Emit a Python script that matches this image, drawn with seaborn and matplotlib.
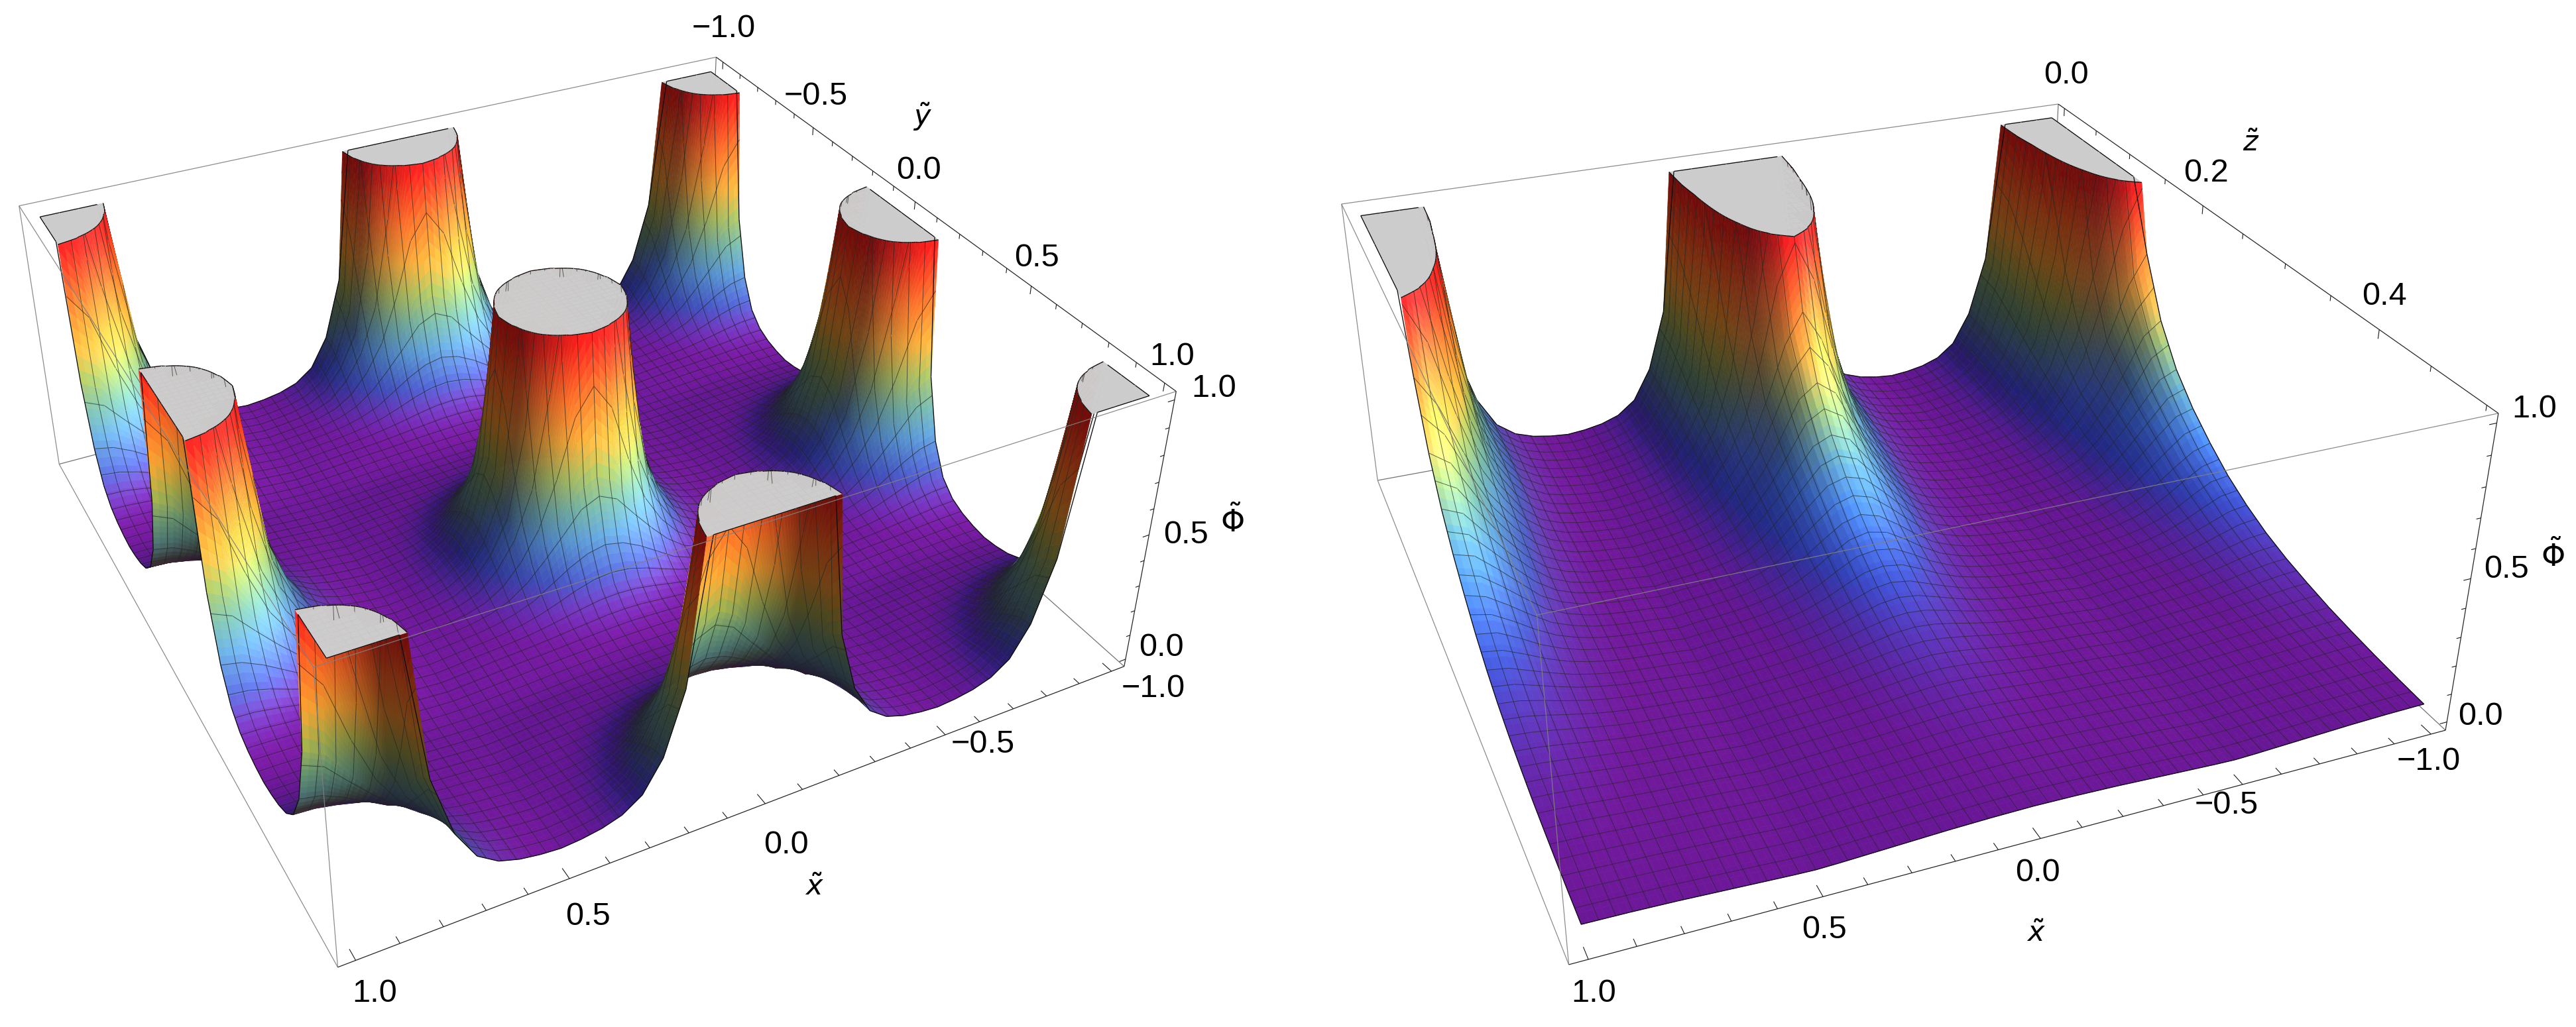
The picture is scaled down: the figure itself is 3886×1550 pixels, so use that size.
import numpy as np
import matplotlib
matplotlib.use("Agg")
import matplotlib.pyplot as plt
import seaborn as sns
from mpl_toolkits.mplot3d.art3d import Poly3DCollection, Line3DCollection

W, H = 3887, 1550

# Values of Phi, at steps of 0.05 from a peak to the midpoint of the lattice
# (the surface repeats by reflection, so one quadrant of readings gives the whole 3x3 lattice of peaks).
PHI_XY = [
    [9.00, 5.50, 2.60, 1.25, .480, .250, .135, .085, .062, .050, .044],
    [5.50, 4.00, 2.20, 1.07, .440, .235, .130, .083, .060, .050, .043],
    [2.60, 2.20, 1.40, .690, .340, .200, .115, .075, .058, .048, .042],
    [1.25, 1.07, .690, .400, .250, .155, .095, .068, .054, .046, .040],
    [.480, .440, .340, .250, .170, .110, .078, .060, .050, .044, .037],
    [.250, .235, .200, .155, .110, .083, .064, .053, .046, .041, .034],
    [.135, .130, .115, .095, .078, .064, .055, .048, .044, .036, .030],
    [.085, .083, .075, .068, .060, .053, .048, .044, .038, .032, .027],
    [.062, .060, .058, .054, .050, .046, .044, .038, .033, .028, .024],
    [.050, .050, .048, .046, .044, .041, .036, .032, .028, .024, .022],
    [.044, .043, .042, .040, .037, .034, .030, .027, .024, .022, .020],
]
# Right panel: rows z = 0, 0.025 ... 0.5; columns |x - peak| = 0, 0.05 ... 0.5
PHI_XZ = [
    [9.00, 5.50, 2.60, 1.20, .470, .250, .135, .085, .062, .050, .044],
    [7.00, 4.90, 2.45, 1.13, .460, .245, .133, .084, .062, .050, .044],
    [4.80, 3.70, 2.00, .970, .410, .230, .127, .082, .061, .050, .043],
    [3.00, 2.50, 1.55, .760, .350, .210, .118, .078, .059, .049, .042],
    [1.90, 1.70, 1.08, .550, .300, .185, .107, .073, .057, .048, .042],
    [1.20, 1.03, .680, .410, .255, .155, .095, .068, .054, .046, .040],
    [.760, .650, .470, .310, .215, .135, .088, .064, .052, .045, .039],
    [.560, .510, .385, .270, .180, .115, .080, .061, .050, .044, .037],
    [.430, .400, .315, .230, .158, .103, .074, .058, .050, .044, .036],
    [.340, .320, .260, .195, .130, .092, .069, .056, .048, .043, .035],
    [.270, .250, .205, .155, .110, .083, .064, .053, .046, .041, .034],
    [.210, .200, .165, .125, .095, .074, .060, .051, .045, .040, .033],
    [.165, .155, .130, .105, .083, .068, .056, .049, .044, .039, .032],
    [.130, .124, .108, .090, .074, .062, .053, .046, .042, .036, .030],
    [.105, .100, .090, .078, .066, .056, .049, .044, .040, .034, .029],
    [.087, .083, .076, .067, .059, .051, .046, .042, .038, .032, .027],
    [.072, .070, .065, .059, .053, .048, .044, .040, .036, .031, .027],
    [.062, .060, .057, .052, .048, .044, .041, .038, .034, .030, .026],
    [.054, .053, .050, .047, .044, .041, .038, .035, .031, .027, .024],
    [.048, .047, .045, .043, .041, .038, .035, .032, .029, .025, .023],
    [.044, .043, .042, .040, .038, .035, .032, .029, .026, .023, .021],
]
RAINBOW = ["#781C81", "#3F56A7", "#4B91C0", "#5FAA9F", "#91BD61", "#D8AF3D", "#E77C30", "#D92120"]
# height at which each of those colours is reached in the picture
RAINBOW_AT = [.05, .16, .28, .38, .50, .63, .78, .98]

X_TICK_LABELS = ["1.0", "0.5", "0.0", "\u22120.5", "\u22121.0"]
Y_TICK_LABELS = ["\u22121.0", "\u22120.5", "0.0", "0.5", "1.0"]
Z_TICK_LABELS = ["0.0", "0.2", "0.4"]
PHI_TICK_LABELS = ["0.0", "0.5", "1.0"]

sns.set_theme(style="white")
plt.rcParams["font.family"] = ["Liberation Sans", "DejaVu Sans"]
plt.rcParams["mathtext.fontset"] = "dejavusans"
CMAP = sns.blend_palette(RAINBOW, n_colors=256, as_cmap=True)

fig = plt.figure(figsize=(W / 100, H / 100), dpi=100, facecolor="white")


def calibrate(world, pixel):
    rows = []
    for (x, y, z), (u, v) in zip(world, pixel):
        rows.append([x, y, z, 1, 0, 0, 0, 0, -u * x, -u * y, -u * z, -u])
        rows.append([0, 0, 0, 0, x, y, z, 1, -v * x, -v * y, -v * z, -v])
    P = np.linalg.svd(np.array(rows, float))[2][-1].reshape(3, 4)
    c = np.mean(world, axis=0)
    if P[2] @ np.r_[c, 1] < 0:
        P = -P
    return P / (P[2] @ np.r_[c, 1])


def make_axes(left, P):
    ax = fig.add_axes([left / W, -200 / H, 1950 / W, 1950 / H], projection="3d", computed_zorder=False)
    ax.set_axis_off()
    ax.patch.set_visible(False)
    Pd = np.diag([1.0, -1.0, 1.0]) @ P
    Pd = Pd + np.outer([0, H, 0], P[2])

    def get_proj():
        inv = np.linalg.inv(ax.transData.get_matrix())
        A = inv @ Pd
        return np.array([A[0], A[1], [0, 0, 0, -1.0], A[2]])

    ax.get_proj = get_proj
    return ax


L_COL = np.array([[0.9, 0, 0], [0, 0.9, 0], [0, 0, 1.1]])
L_DIR = np.array([[.75, .1, .65], [.7, .2, .68], [.45, .45, .77]])
AMBIENT = np.array([.52, .38, .32])
SPEC_DIR = np.array([.8, .1, .6])


def clip_poly(poly, keep_below):
    out = []
    n = len(poly)
    for k in range(n):
        a, b = poly[k], poly[(k + 1) % n]
        ina = a[2] <= 1 if keep_below else a[2] >= 1
        inb = b[2] <= 1 if keep_below else b[2] >= 1
        if ina:
            out.append(a)
        if ina != inb:
            t = (1 - a[2]) / (b[2] - a[2])
            out.append((a[0] + t * (b[0] - a[0]), a[1] + t * (b[1] - a[1]), 1.0))
    return out


def clip_seg(a, b):
    if a[2] <= 1 and b[2] <= 1:
        return [(a, b)]
    if a[2] > 1 and b[2] > 1:
        return []
    t = (1 - a[2]) / (b[2] - a[2])
    m = (a[0] + t * (b[0] - a[0]), a[1] + t * (b[1] - a[1]), 1.0)
    return [(a, m)] if a[2] <= 1 else [(m, b)]


def surface(ax, P, xs, ys, Phi, mesh_x, mesh_y):
    sx, sy, sz = 1 / (xs[-1] - xs[0]), 1 / (ys[-1] - ys[0]), 0.4
    A = P[:, :3]
    C = -np.linalg.solve(A, P[:, 3])
    Cb = C * [sx, sy, sz]
    cen = np.array([(xs[0] + xs[-1]) / 2 * sx, (ys[0] + ys[-1]) / 2 * sy, 0.2])
    v = (Cb - cen) / np.linalg.norm(Cb - cen)
    r = np.cross([0, 0, 1], v); r /= np.linalg.norm(r)
    u = np.cross(v, r)
    frame = np.array([r, u, v])
    L_world = L_DIR @ frame
    S_world = SPEC_DIR @ frame

    pad = np.pad(np.minimum(Phi, 3.0), 1, mode="reflect")
    gx = np.gradient(pad, xs[1] - xs[0], axis=0)[1:-1, 1:-1] / sx
    gy = np.gradient(pad, ys[1] - ys[0], axis=1)[1:-1, 1:-1] / sy
    N = np.stack([-gx * sz, -gy * sz, np.ones_like(gx)], axis=-1)
    N /= np.linalg.norm(N, axis=-1, keepdims=True)

    nx, ny = len(xs) - 1, len(ys) - 1
    cells = [(i, j) for i in range(nx) for j in range(ny)]
    xc = (xs[:-1] + xs[1:]) / 2
    yc = (ys[:-1] + ys[1:]) / 2
    cells.sort(key=lambda c: (-abs(yc[c[1]] - C[1]), -abs(xc[c[0]] - C[0])))
    stops = np.linspace(0, 1, len(RAINBOW))

    z0 = 10
    for (i, j) in cells:
        f00, f10, f01, f11 = Phi[i, j], Phi[i + 1, j], Phi[i, j + 1], Phi[i + 1, j + 1]
        c00, c10, c01, c11 = [min(f, 1.0) for f in (f00, f10, f01, f11)]
        nu = int(np.clip(np.ceil(max(abs(c10 - c00), abs(c11 - c01)) / .03), 3, 14))
        nv = int(np.clip(np.ceil(max(abs(c01 - c00), abs(c11 - c10)) / .03), 3, 14))
        ug = np.linspace(0, 1, nu + 1)
        vg = np.linspace(0, 1, nv + 1)
        x0, x1, y0, y1 = xs[i], xs[i + 1], ys[j], ys[j + 1]

        def pt(a, b):
            return (x0 + a * (x1 - x0), y0 + b * (y1 - y0),
                    f00 * (1 - a) * (1 - b) + f10 * a * (1 - b) + f01 * (1 - a) * b + f11 * a * b)

        polys, meta, cap = [], [], []
        outline = []
        for a0, a1 in zip(ug[:-1], ug[1:]):
            for b0, b1 in zip(vg[:-1], vg[1:]):
                q = [pt(a0, b0), pt(a1, b0), pt(a1, b1), pt(a0, b1)]
                zz = [p[2] for p in q]
                am, bm = (a0 + a1) / 2, (b0 + b1) / 2
                if min(zz) < 1:
                    poly = q if max(zz) <= 1 else clip_poly(q, True)
                    if len(poly) >= 3:
                        polys.append(poly)
                        zmean = np.mean([p[2] for p in poly])
                        meta.append((am, bm, zmean))
                        if max(zz) > 1:
                            ed = [p for p in poly if p[2] == 1.0]
                            if len(ed) >= 2:
                                outline.append((ed[0], ed[-1]))
                if max(zz) > 1:
                    poly = q if min(zz) >= 1 else clip_poly(q, False)
                    if len(poly) >= 3:
                        cap.append([(p[0], p[1], 1.0) for p in poly])

        vsout = []
        cols = []
        if polys:
            mt = np.array(meta)
            a, b = mt[:, 0, None], mt[:, 1, None]
            n = N[i, j] * (1 - a) * (1 - b) + N[i + 1, j] * a * (1 - b) + N[i, j + 1] * (1 - a) * b + N[i + 1, j + 1] * a * b
            n /= np.linalg.norm(n, axis=1, keepdims=True)
            pos = np.array([x0 * sx, y0 * sy, 0]) + np.hstack([a * (x1 - x0) * sx, b * (y1 - y0) * sy, mt[:, 2, None] * sz])
            vw = Cb - pos
            flip = np.sign(np.sum(n * vw, axis=1, keepdims=True))
            flip[flip == 0] = 1
            n = n * flip
            t = np.interp(mt[:, 2], RAINBOW_AT, stops)
            base = np.array(CMAP(t))[:, :3]
            diff = np.clip(n @ L_world.T, 0, None)
            lit = AMBIENT + diff @ L_COL
            spec = np.clip(n @ S_world, 0, None)[:, None] ** 8 * 0.14
            cols = np.clip(base * lit + spec, 0, 1)
            cols = [tuple(c) + (1,) for c in cols]
            vsout = polys
        allv = vsout + cap
        allc = list(cols) + [(.8, .8, .8, 1)] * len(cap)
        col = Poly3DCollection(allv, facecolors=allc, edgecolors=allc, linewidths=0.45, zorder=z0)
        ax.add_collection3d(col, autolim=False)

        segs = []
        for xm in mesh_x:
            if x0 <= xm < x1:
                a = (xm - x0) / (x1 - x0)
                segs += clip_seg(pt(a, 0), pt(a, 1))
        for ym in mesh_y:
            if y0 <= ym < y1:
                b = (ym - y0) / (y1 - y0)
                segs += clip_seg(pt(0, b), pt(1, b))
        rim = list(outline)
        if i == 0:
            rim += [(pt(0, 0), pt(0, 1))]
        if i == nx - 1:
            rim += [(pt(1, 0), pt(1, 1))]
        if j == 0:
            rim += [(pt(0, 0), pt(1, 0))]
        if j == ny - 1:
            rim += [(pt(0, 1), pt(1, 1))]
        rim = [tuple((p[0], p[1], min(p[2], 1.0)) for p in s) for s in rim]
        if segs:
            ax.add_collection3d(Line3DCollection(segs, colors=[(.13, .15, .13, .68)], linewidths=0.7, zorder=z0 + 1), autolim=False)
        if rim:
            ax.add_collection3d(Line3DCollection(rim, colors=[(.05, .05, .05, 1)], linewidths=0.95, zorder=z0 + 1.5), autolim=False)
        z0 += 2


def box(ax, x_far, x_near, y0, y1, lo, hi):
    back = [[(x_far, y0, lo), (x_far, y0, hi)], [(x_near, y0, lo), (x_far, y0, lo)], [(x_far, y0, lo), (x_far, y1, lo)]]
    front = [[(x_near, y1, hi), (x_near, y0, hi)], [(x_near, y1, hi), (x_far, y1, hi)], [(x_near, y1, hi), (x_near, y1, lo)],
             [(x_near, y0, hi), (x_near, y0, lo)], [(x_near, y0, lo), (x_near, y1, lo)], [(x_near, y0, hi), (x_far, y0, hi)]]
    dark = [[(x_near, y1, lo), (x_far, y1, lo)], [(x_far, y0, hi), (x_far, y1, hi)], [(x_far, y1, lo), (x_far, y1, hi)]]
    ax.add_collection3d(Line3DCollection(back, colors=[(.45, .45, .45)], linewidths=0.9, zorder=1), autolim=False)
    ax.add_collection3d(Line3DCollection(front, colors=[(.5, .5, .5, .9)], linewidths=0.9, zorder=1e6), autolim=False)
    ax.add_collection3d(Line3DCollection(dark, colors=[(.15, .15, .15)], linewidths=0.9, zorder=1e6), autolim=False)


def ticks(ax, x_pos, y_pos, phi_pos, x_far, y1, lo, hi, xmaj, ymaj, lx, ly):
    seg = []
    for t in x_pos:
        k = any(abs(t - m) < 1e-6 for m in xmaj)
        seg.append([(t, y1, lo), (t, y1 - ly * (1.6 if k else 1), lo)])
    for t in y_pos:
        k = any(abs(t - m) < 1e-6 for m in ymaj)
        seg.append([(x_far, t, hi), (x_far, t, hi - (.03 if k else .018))])
    for t in phi_pos:
        k = any(abs(t - m) < 1e-6 for m in (0, .5, 1))
        seg.append([(x_far, y1, t), (x_far + lx * (1.6 if k else 1), y1, t)])
    ax.add_collection3d(Line3DCollection(seg, colors=[(.1, .1, .1)], linewidths=0.8, zorder=1e6), autolim=False)


def label(px, py, s, size=35):
    fig.text(px / W, 1 - py / H, s, ha="center", va="center", fontsize=size, color="black")


def fold(n_half):
    idx = np.arange(-n_half, n_half + 1)
    return np.abs(((idx + 10) % 20) - 10)


PAD_X, PAD_Z, LO, HI = 1.04, 0.51, -0.03, 1.03

# ---------- left panel ----------
P1 = calibrate(
    [(PAD_X, -PAD_X, HI), (-PAD_X, -PAD_X, HI), (-PAD_X, PAD_X, HI), (PAD_X, -PAD_X, LO), (PAD_X, PAD_X, LO), (PAD_X, PAD_X, HI), (-PAD_X, PAD_X, LO)],
    [(30.6, 307.7), (1078, 84), (1776, 602), (90, 705.6), (507, 1462), (472, 1001), (1697, 998)],
)
ax1 = make_axes(0, P1)
xs1 = np.arange(-20, 21) * 0.05
Q = np.array(PHI_XY)
Phi1 = Q[np.ix_(fold(20), fold(20))]
box(ax1, -PAD_X, PAD_X, -PAD_X, PAD_X, LO, HI)
mesh1 = np.linspace(-1, 1, 57)[1:-1]
surface(ax1, P1, xs1, xs1, Phi1, mesh1, mesh1)
tk = np.arange(-10, 11) * .1
ticks(ax1, tk, tk, np.arange(11) * .1, -PAD_X, PAD_X, LO, HI, (-1, -.5, 0, .5, 1), (-1, -.5, 0, .5, 1), 0.012, 0.022)

for (px, py), s in zip([(565, 1500), (887, 1383), (1186, 1276), (1483, 1123), (1740, 1040)], X_TICK_LABELS):
    label(px, py, s)
for (px, py), s in zip([(1092, 43), (1231, 145), (1386, 258), (1564, 389), (1768, 538)], Y_TICK_LABELS):
    label(px, py, s)
for (px, py), s in zip([(1752, 977), (1789, 807), (1831, 587)], PHI_TICK_LABELS):
    label(px, py, s)
label(1228, 1340, r"$\tilde{x}$", 31)
label(1392, 176, r"$\tilde{y}$", 31)
label(1859, 788, r"$\tilde{\Phi}$", 33)

# ---------- right panel ----------
P2 = calibrate(
    [(PAD_X, -.01, HI), (-PAD_X, -.01, HI), (-PAD_X, PAD_Z, HI), (PAD_X, -.01, LO), (PAD_X, PAD_Z, LO), (PAD_X, PAD_Z, HI), (-PAD_X, PAD_Z, LO)],
    [(2024, 308), (3105, 157), (3769, 624), (2078, 725), (2367, 1456), (2318, 928), (3689, 1102)],
)
ax2 = make_axes(1937, P2)
xs2 = np.arange(-20, 21) * 0.05
zs2 = np.arange(0, 21) * 0.025
R = np.array(PHI_XZ)
Phi2 = R[:, fold(20)].T
box(ax2, -PAD_X, PAD_X, -.01, PAD_Z, LO, HI)
surface(ax2, P2, xs2, zs2, Phi2, np.linspace(-1, 1, 57)[1:-1], np.linspace(0, .5, 41)[1:-1])
ticks(ax2, tk, np.arange(11) * .05, np.arange(11) * .1, -PAD_X, PAD_Z, LO, HI, (-1, -.5, 0, .5, 1), (0, .2, .4), 0.012, 0.006)

for (px, py), s in zip([(2404, 1499), (2752, 1404), (3074, 1317), (3359, 1215), (3664, 1150)], X_TICK_LABELS):
    label(px, py, s)
for (px, py), s in zip([(3117, 113), (3328, 261), (3597, 448)], Z_TICK_LABELS):
    label(px, py, s)
for (px, py), s in zip([(3742, 1082), (3781, 860), (3823, 617)], PHI_TICK_LABELS):
    label(px, py, s)
label(3071, 1410, r"$\tilde{x}$", 31)
label(3396, 217, r"$\tilde{z}$", 31)
label(3851, 840, r"$\tilde{\Phi}$", 33)

fig.savefig("out.png", dpi=100, facecolor="white")
